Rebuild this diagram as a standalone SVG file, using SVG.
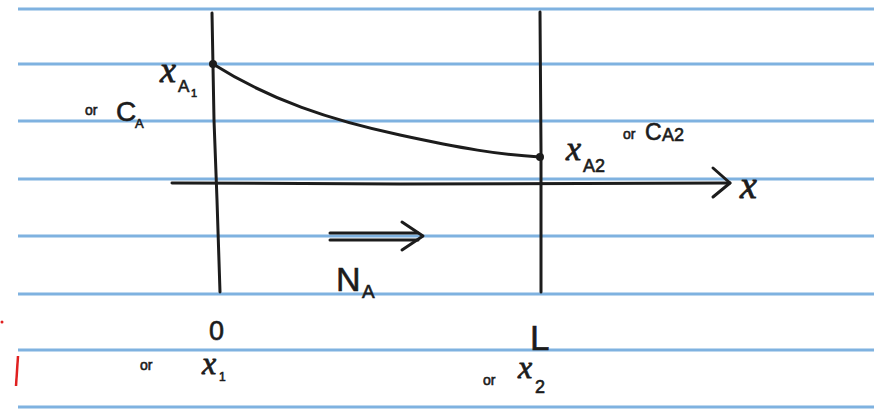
<svg xmlns="http://www.w3.org/2000/svg" width="874" height="414" viewBox="0 0 874 414">
<style>
.rule{stroke:#7fb2e0;stroke-width:3;fill:none}
.ink{stroke:#1c1c1c;stroke-width:3;fill:none;stroke-linecap:round;stroke-linejoin:round}
.t{font-family:"Liberation Serif",serif;font-style:italic;fill:#1c1c1c;stroke:#1c1c1c;stroke-width:0.8}
.s{font-family:"Liberation Sans",sans-serif;fill:#1c1c1c;stroke:#1c1c1c;stroke-width:0.6}
</style>
<rect width="874" height="414" fill="#ffffff"/>
<g id="paper">
<line class="rule" x1="18" y1="9" x2="874" y2="9"/>
<line class="rule" x1="18" y1="64" x2="874" y2="64"/>
<line class="rule" x1="18" y1="121" x2="874" y2="121"/>
<line class="rule" x1="18" y1="179" x2="874" y2="179"/>
<line class="rule" x1="18" y1="236" x2="874" y2="236"/>
<line class="rule" x1="18" y1="294" x2="874" y2="294"/>
<line class="rule" x1="18" y1="350" x2="874" y2="350"/>
<line class="rule" x1="18" y1="407" x2="874" y2="407"/>
<circle cx="2" cy="322" r="1.5" fill="#e02020"/>
<path d="M18 356 L16 386" stroke="#e02020" stroke-width="2.5" fill="none"/>
</g>
<g id="walls">
<path class="ink" d="M212 13 L214 120 L217 200 L220 292"/>
<path class="ink" d="M540 12 L541 150 L541 292"/>
</g>
<g id="profile">
<path class="ink" d="M213 64 C270 100 330 120 400 135 C460 148 500 155 540 157"/>
<circle cx="213" cy="64" r="4" fill="#1c1c1c"/>
<circle cx="540" cy="157" r="4" fill="#1c1c1c"/>
</g>
<g id="axis">
<path class="ink" d="M172 183 L400 184 L730 183"/>
<path class="ink" d="M713 168 L730 183 L713 197"/>
</g>
<g id="flux">
<path class="ink" d="M330 233 L418 233"/>
<path class="ink" d="M330 240 L418 240"/>
<path class="ink" d="M402 222 L423 236 L402 250"/>
</g>
<g id="labels">
<text class="t" x="160" y="82" font-size="36">x</text>
<text class="s" x="178" y="92" font-size="17">A</text>
<text class="s" x="191" y="97" font-size="11">1</text>
<text class="s" x="85" y="115" font-size="14">or</text>
<text class="s" x="116" y="121" font-size="28">C</text>
<text class="s" x="135" y="128" font-size="13">A</text>
<text class="t" x="566" y="160" font-size="34">x</text>
<text class="s" x="583" y="172" font-size="18">A2</text>
<text class="s" x="623" y="139" font-size="14">or</text>
<text class="s" x="645" y="140" font-size="23">C</text>
<text class="s" x="662" y="141" font-size="18">A2</text>
<text class="t" x="740" y="198" font-size="38">x</text>
<text class="s" x="336" y="291" font-size="34">N</text>
<text class="s" x="362" y="298" font-size="19">A</text>
<text class="s" x="209" y="340" font-size="27">0</text>
<text class="s" x="140" y="370" font-size="14">or</text>
<text class="t" x="202" y="374" font-size="32">x</text>
<text class="s" x="219" y="381" font-size="12">1</text>
<text class="s" x="530" y="350" font-size="35">L</text>
<text class="s" x="483" y="385" font-size="14">or</text>
<text class="t" x="518" y="378" font-size="32">x</text>
<text class="s" x="535" y="393" font-size="18">2</text>
</g>
</svg>
